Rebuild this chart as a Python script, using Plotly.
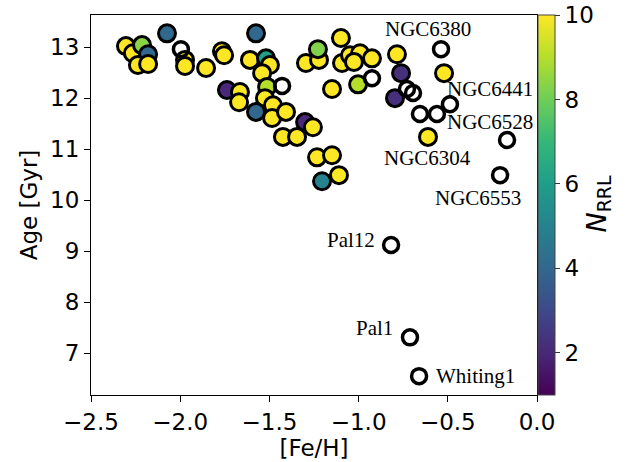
import plotly.graph_objects as go

# Clusters with RR Lyrae counts (coloured markers)
feh_rrl = [-2.304, -2.265, -2.214, -2.18, -2.237, -2.18, -2.074, -1.973, -1.973, -1.855,
           -1.766, -1.754, -1.575, -1.609, -1.519, -1.497, -1.541, -1.513, -1.738, -1.665,
           -1.67, -1.525, -1.48, -1.575, -1.485, -1.407, -1.424, -1.345, -1.30, -1.256,
           -1.233, -1.149, -1.205, -1.11, -1.295, -1.222, -1.228, -1.099, -1.093, -1.048,
           -0.992, -1.026, -0.925, -1.149, -1.003, -0.785, -0.762, -0.796, -0.521, -0.611]
age_rrl = [13.02, 12.88, 13.04, 12.86, 12.65, 12.67, 13.27, 12.75, 12.63, 12.59,
           12.92, 12.84, 13.27, 12.75, 12.78, 12.65, 12.49, 12.22, 12.16, 12.12,
           11.92, 12.0, 11.86, 11.73, 11.61, 11.73, 11.24, 11.24, 11.53, 11.43,
           10.84, 10.88, 10.37, 10.49, 12.69, 12.75, 12.96, 13.18, 12.69, 12.84,
           12.88, 12.71, 12.78, 12.18, 12.27, 12.86, 12.49, 12.0, 12.49, 11.24]
n_rrl = [10, 10, 8.4, 4, 10, 10, 4, 10, 10, 10,
         10, 10, 4, 10, 6, 10, 10, 9, 2, 10,
         10, 10, 10, 4, 10, 10, 10, 10, 2, 10,
         10, 10, 5, 10, 10, 10, 8.3, 10, 10, 10,
         10, 10, 10, 10, 9, 10, 2.2, 2.2, 10, 10]

# Clusters without RR Lyrae (open markers)
feh_none = [-1.996, -1.429, -0.925, -0.729, -0.695, -0.538, -0.656, -0.561, -0.488,
            -0.168, -0.207, -0.818, -0.712, -0.661]
age_none = [12.96, 12.24, 12.39, 12.18, 12.10, 12.96, 11.69, 11.69, 11.88,
            11.18, 10.49, 9.12, 7.31, 6.55]

# Labelled clusters
label_names = ["NGC6380", "NGC6441", "NGC6528", "NGC6304", "NGC6553", "Pal12", "Pal1", "Whiting1"]
label_feh = [-0.538, -0.488, -0.168, -0.611, -0.207, -0.818, -0.712, -0.661]
label_age = [12.96, 11.88, 11.18, 11.24, 10.49, 9.12, 7.31, 6.55]
label_shift = [(-13, 20), (40, 15), (-17, 18), (-1, -21), (-22, -23), (-40, 5), (-35, 9), (56, 0)]

x_ticks = [-2.5, -2.0, -1.5, -1.0, -0.5, 0.0]
y_ticks = [7, 8, 9, 10, 11, 12, 13]
cbar_ticks = [2, 4, 6, 8, 10]

fig = go.Figure()

fig.add_trace(go.Scatter(
    x=feh_rrl, y=age_rrl, mode="markers",
    marker=dict(
        size=17, color=n_rrl, colorscale="Viridis", cmin=1, cmax=10,
        line=dict(color="black", width=3),
        showscale=True,
        colorbar=dict(
            x=1.0, xanchor="left", xpad=1, thickness=17,
            len=1, lenmode="fraction", y=0.5, yanchor="middle", ypad=0,
            outlinewidth=1, outlinecolor="#444",
            ticks="outside", ticklen=5, tickcolor="#333",
            tickvals=cbar_ticks,
            tickfont=dict(family="DejaVu Sans", size=23, color="black"),
        ),
    ),
    showlegend=False, hoverinfo="x+y",
))

fig.add_trace(go.Scatter(
    x=feh_none, y=age_none, mode="markers",
    marker=dict(size=15, color="rgba(0,0,0,0)", line=dict(color="black", width=3.5)),
    showlegend=False, hoverinfo="x+y",
))

annotations = []
for name, fx, fy, (dx, dy) in zip(label_names, label_feh, label_age, label_shift):
    annotations.append(dict(
        x=fx, y=fy, xref="x", yref="y", text=name, showarrow=False,
        xshift=dx, yshift=dy,
        font=dict(family="Liberation Serif", size=21, color="black"),
    ))

annotations.append(dict(
    x=1.0, y=0.5, xref="paper", yref="paper", xshift=80, yshift=1,
    text="<i>N</i><sub>RRL</sub>", textangle=-90, showarrow=False,
    font=dict(family="DejaVu Sans", size=27, color="black"),
))

axis_common = dict(
    showline=True, mirror=True, linecolor="black", linewidth=1,
    ticks="outside", ticklen=6, tickcolor="black", tickwidth=1,
    showgrid=False, zeroline=False, automargin=False,
    tickfont=dict(family="DejaVu Sans", size=23, color="black"),
)

fig.update_layout(
    width=641, height=462,
    margin=dict(l=91, r=104, t=15, b=67),
    paper_bgcolor="white", plot_bgcolor="white",
    xaxis=dict(range=[-2.5, 0.0], tickvals=x_ticks, tickformat=".1f",
               title=dict(text="[Fe/H]", standoff=2,
                          font=dict(family="DejaVu Sans", size=23, color="black")),
               **axis_common),
    yaxis=dict(range=[6.18, 13.63], tickvals=y_ticks,
               title=dict(text="Age [Gyr]", standoff=6,
                          font=dict(family="DejaVu Sans", size=23, color="black")),
               **axis_common),
    annotations=annotations,
)

fig.write_html("out.html", config={"displayModeBar": False},
               post_script="document.body.style.margin='0';")
